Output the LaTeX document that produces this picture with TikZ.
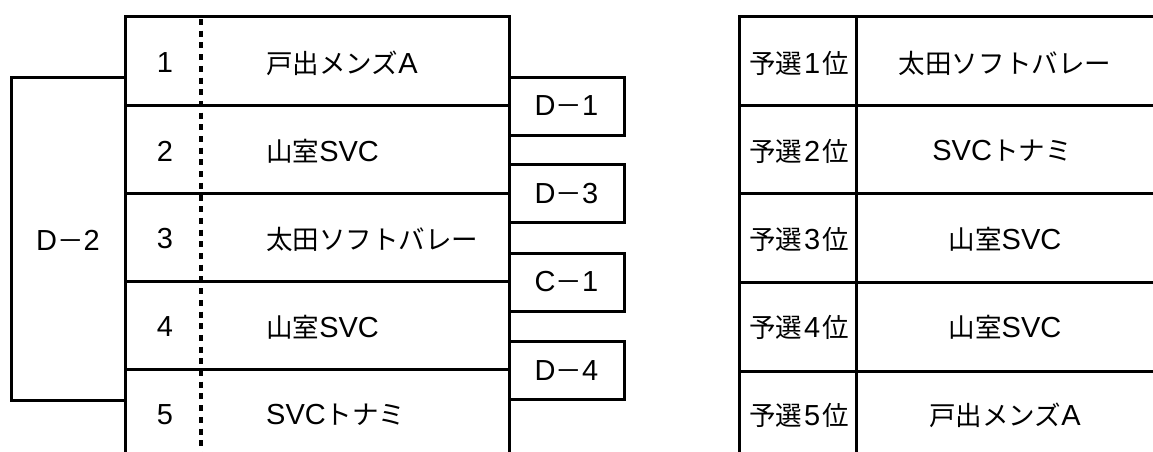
\documentclass[tikz,border=0pt]{standalone}
\usepackage{fontspec}
\setmainfont{Liberation Sans}
\newfontfamily\jpfont[Scale=0.915]{Noto Sans CJK JP}
\newcommand\J[1]{{\jpfont #1}}
\begin{document}
\begin{tikzpicture}[x=1pt,y=-1pt,
  rule/.style={line width=3pt},
  dotrule/.style={line width=3.5pt,dash pattern=on 6pt off 5.7pt},
  txt/.style={font=\fontsize{29}{29}\selectfont,inner sep=0pt,anchor=center},
  lefttxt/.style={font=\fontsize{29}{29}\selectfont,inner sep=0pt,anchor=west},
  matchbox/.style={draw,line width=3pt,minimum width=115pt,minimum height=58pt,inner sep=0pt,font=\fontsize{29}{29}\selectfont}]
\useasboundingbox (0,0) rectangle (1153,452);
% left table
\draw[rule] (125,460) -- (125,17) -- (509,17) -- (509,460);
\foreach \y in {105,193,281,369}{\draw[rule] (125,\y) -- (509,\y);}
\draw[dotrule] (201,19) -- (201,452);
% numbers and teams
\node[txt] (n1) at (165,63) {1};
\node[txt] (n2) at (165,151) {2};
\node[txt] (n3) at (165,239) {3};
\node[txt] (n4) at (165,327) {4};
\node[txt] (n5) at (165,415) {5};
\node[lefttxt] (t1) at (266,63) {\J{戸出メンズ}A};
\node[lefttxt] (t2) at (266,151) {\J{山室}SVC};
\node[lefttxt] (t3) at (266,239) {\J{太田ソフトバレー}};
\node[lefttxt] (t4) at (266,327) {\J{山室}SVC};
\node[lefttxt] (t5) at (266,415) {SVC\J{トナミ}};
% D-2 bracket
\coordinate (b1) at (125,77);
\coordinate (b2) at (125,400);
\draw[rule] (b1) -- (11,77) -- (11,400) -- (b2);
\node[txt] (d2) at (68,240) {D\J{－}2};
% match boxes
\node[matchbox] (m1) at (566.5,106) {D\J{－}1};
\node[matchbox] (m2) at (566.5,193.5) {D\J{－}3};
\node[matchbox] (m3) at (566.5,282) {C\J{－}1};
\node[matchbox] (m4) at (566.5,370.5) {D\J{－}4};
% right table
\draw[rule] (739,460) -- (739,17) -- (1160,17);
\draw[rule] (856,17) -- (856,460);
\foreach \y in {105,193,282,371}{\draw[rule] (739,\y) -- (1160,\y);}
\node[txt] (r1) at (799,63) {\J{予選}\kern2pt1\kern2pt\J{位}};
\node[txt] (r2) at (799,151) {\J{予選}\kern2pt2\kern2pt\J{位}};
\node[txt] (r3) at (799,239) {\J{予選}\kern2pt3\kern2pt\J{位}};
\node[txt] (r4) at (799,327) {\J{予選}\kern2pt4\kern2pt\J{位}};
\node[txt] (r5) at (799,415) {\J{予選}\kern2pt5\kern2pt\J{位}};
\node[txt] (s1) at (1005,63) {\J{太田ソフトバレー}};
\node[txt] (s2) at (1002,151) {SVC\J{トナミ}};
\node[txt] (s3) at (1005,239) {\J{山室}SVC};
\node[txt] (s4) at (1005,327) {\J{山室}SVC};
\node[txt] (s5) at (1005,415) {\J{戸出メンズ}A};
\end{tikzpicture}
\end{document}
